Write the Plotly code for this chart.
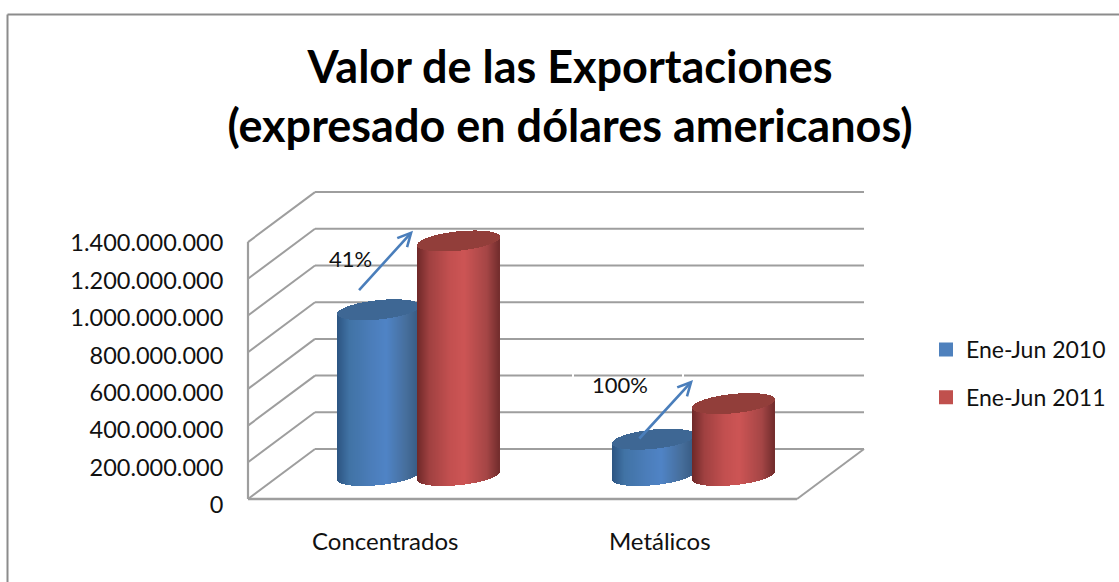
import numpy as np
import plotly.graph_objects as go

# ---- data ----
categories = ["Concentrados", "Metálicos"]
series_names = ["Ene-Jun 2010", "Ene-Jun 2011"]
values_2010 = [903000000, 198000000]
values_2011 = [1278000000, 392000000]
axis_ticks = [0, 200000000, 400000000, 600000000, 800000000, 1000000000, 1200000000, 1400000000]
axis_labels = ["0", "200.000.000", "400.000.000", "600.000.000", "800.000.000",
               "1.000.000.000", "1.200.000.000", "1.400.000.000"]

# ---- style / layout constants ----
W, H = 1119, 582
PL, PR, PT, PB = 240, 875, 185, 505      # plot area in page pixels
X0_PX, X_UNIT = 385.25, 274.5            # pixel of category 0, pixels per category
Y0_PX, PPV = 499.0, 36.7 / 200000000     # pixel of value 0, pixels per value unit
DEPTH_X, DEPTH_Y = 67.0, 50.0            # oblique depth of floor, pixels
FONT = "Lato"
GRID = "#9E9E9E"
STOPS = {
    0: [(-1, (45, 85, 130)), (-.7, (65, 115, 165)), (-.2, (75, 125, 185)), (.2, (80, 132, 198)), (.7, (70, 110, 155)), (1, (55, 90, 130))],
    1: [(-1, (110, 40, 40)), (-.7, (160, 65, 65)), (-.2, (195, 80, 80)), (.15, (205, 85, 85)), (.7, (165, 70, 70)), (1, (115, 45, 45))],
}
CAP = {0: "#3E6794", 1: "#923E3A"}
SWATCH = {0: "#4F81BD", 1: "#C0504D"}
EL_A, EL_S, EL_B = 37.8, 16.0, 10.5      # cap ellipse: half width, shear, half height (px)
CYL_OFFSET = 40.0                        # distance of each cylinder from category centre (px)
FLOOR_PX = DEPTH_Y / 2 + 1.5             # height of cylinder base centre above the front edge (px)

dx = lambda px: px / X_UNIT
dy = lambda px: px / PPV
fx = lambda px: (px - X0_PX) / X_UNIT
fy = lambda py: (Y0_PX - py) / PPV

fig = go.Figure()
R = float(np.hypot(EL_A, EL_S))
PHI = float(np.arctan2(EL_S, EL_A))
us = np.arange(-R + .5, R, 1.0) / R
theta = np.arccos(us)
lower = EL_B * np.sin(PHI - theta)
upper = EL_B * np.sin(PHI + theta)


def shade(s):
    st = STOPS[s]
    pos = [p[0] for p in st]
    return [f"rgb({int(np.interp(u, pos, [p[1][0] for p in st]))},"
            f"{int(np.interp(u, pos, [p[1][1] for p in st]))},"
            f"{int(np.interp(u, pos, [p[1][2] for p in st]))})" for u in us]


all_values = [values_2010, values_2011]
for c in range(len(categories)):
    for s, vals in enumerate(all_values):
        centre = c + dx(DEPTH_X / 2 + (2 * s - 1) * CYL_OFFSET)
        floor = dy(FLOOR_PX - 3)
        xs = centre + dx(us * R)
        fig.add_bar(x=xs, y=[vals[c]] * len(us), base=floor + dy(lower), width=dx(1.35),
                    marker=dict(color=shade(s), line_width=0), showlegend=False, hoverinfo="skip")
        fig.add_bar(x=xs, y=dy(upper - lower), base=floor + vals[c] + dy(lower), width=dx(1.35),
                    marker=dict(color=CAP[s], line_width=0), showlegend=False, hoverinfo="skip")

for s, name in enumerate(series_names):
    fig.add_bar(x=[None], y=[None], yaxis="y2", name=name, legendgroup=name,
                marker=dict(color=SWATCH[s], line=dict(color=SWATCH[s], width=2)))

# walls and floor
shapes = []
def seg(x0, y0, x1, y1, color=GRID, width=2, layer="below"):
    shapes.append(dict(type="line", xref="x", yref="y", x0=x0, y0=y0, x1=x1, y1=y1,
                       layer=layer, line=dict(color=color, width=width)))

x_left, x_front_right = fx(248), fx(797)
x_back_left, x_back_right = fx(248 + DEPTH_X), fx(797 + DEPTH_X)
for v in axis_ticks:
    seg(x_left, v, x_back_left, v + dy(DEPTH_Y))
    seg(x_back_left, v + dy(DEPTH_Y), x_back_right, v + dy(DEPTH_Y))
seg(x_left, 0, x_left, axis_ticks[-1], width=2.2)
seg(x_left, 0, x_front_right, 0, width=2.4)
seg(x_front_right, 0, x_back_right, dy(DEPTH_Y))
# small white nicks of the text box on the 600M wall line
for px in (573, 683):
    seg(fx(px), fy(374), fx(px), fy(378), color="white", width=2, layer="above")
# outer frame (top and left only)
for a in [(7.5, 14.5, W, 14.5), (7.5, 14.5, 7.5, H)]:
    shapes.append(dict(type="line", xref="paper", yref="paper",
                       x0=(a[0] - PL) / (PR - PL), x1=(a[2] - PL) / (PR - PL),
                       y0=(PB - a[1]) / (PB - PT), y1=(PB - a[3]) / (PB - PT),
                       line=dict(color="#8C8C8C", width=2)))

annotations = [
    dict(x=fx(350), y=fy(258), text="41%", showarrow=False, font=dict(family=FONT, size=22, color="#111")),
    dict(x=fx(620), y=fy(384), text="100%", showarrow=False, font=dict(family=FONT, size=22, color="#111")),
]
for (hx, hy, tx, ty) in [(413, 230.7, 357.7, 291.7), (693, 380, 638, 440)]:
    annotations.append(dict(x=fx(hx), y=fy(hy), ax=tx - hx, ay=ty - hy, text="", showarrow=True,
                            arrowhead=5, arrowsize=1, arrowwidth=2.6, arrowcolor="#4A7EBB"))

fig.update_layout(
    width=W, height=H, autosize=False,
    margin=dict(l=PL, r=W - PR, t=PT, b=H - PB, pad=0),
    paper_bgcolor="white", plot_bgcolor="white",
    barmode="overlay", bargap=0,
    shapes=shapes, annotations=annotations,
    title=dict(text="Valor de las Exportaciones<br>(expresado en dólares americanos)",
               x=570 / W, xanchor="center", y=1 - 83 / H, yanchor="top",
               font=dict(family=FONT, size=45, color="black", weight="bold")),
    xaxis=dict(range=[fx(PL), fx(PR)], tickmode="array", tickvals=[0, 1], ticktext=categories,
               showgrid=False, zeroline=False, showline=False, ticks="outside", ticklen=15,
               tickcolor="rgba(0,0,0,0)", tickfont=dict(family=FONT, size=24, color="#111")),
    yaxis=dict(range=[fy(PB), fy(PT)], showticklabels=False, showgrid=False, zeroline=False,
               showline=False, ticks=""),
    yaxis2=dict(range=[0, (PB - PT) / 37.4 * 200000000], overlaying="y", side="left", anchor="x",
                tickmode="array", tickvals=axis_ticks, ticktext=axis_labels,
                showgrid=False, zeroline=False, showline=False, ticks="outside", ticklen=11,
                tickcolor="rgba(0,0,0,0)", tickfont=dict(family=FONT, size=23.5, color="#111")),
    legend=dict(xref="container", yref="container", x=926 / W, xanchor="left",
                y=1 - 328 / H, yanchor="top",
                tracegroupgap=15, font=dict(family=FONT, size=23, color="#111"),
                bgcolor="rgba(0,0,0,0)", traceorder="grouped"),
)
fig.write_html("out.html", post_script="document.body.style.margin='0';",
               config={"displayModeBar": False})
